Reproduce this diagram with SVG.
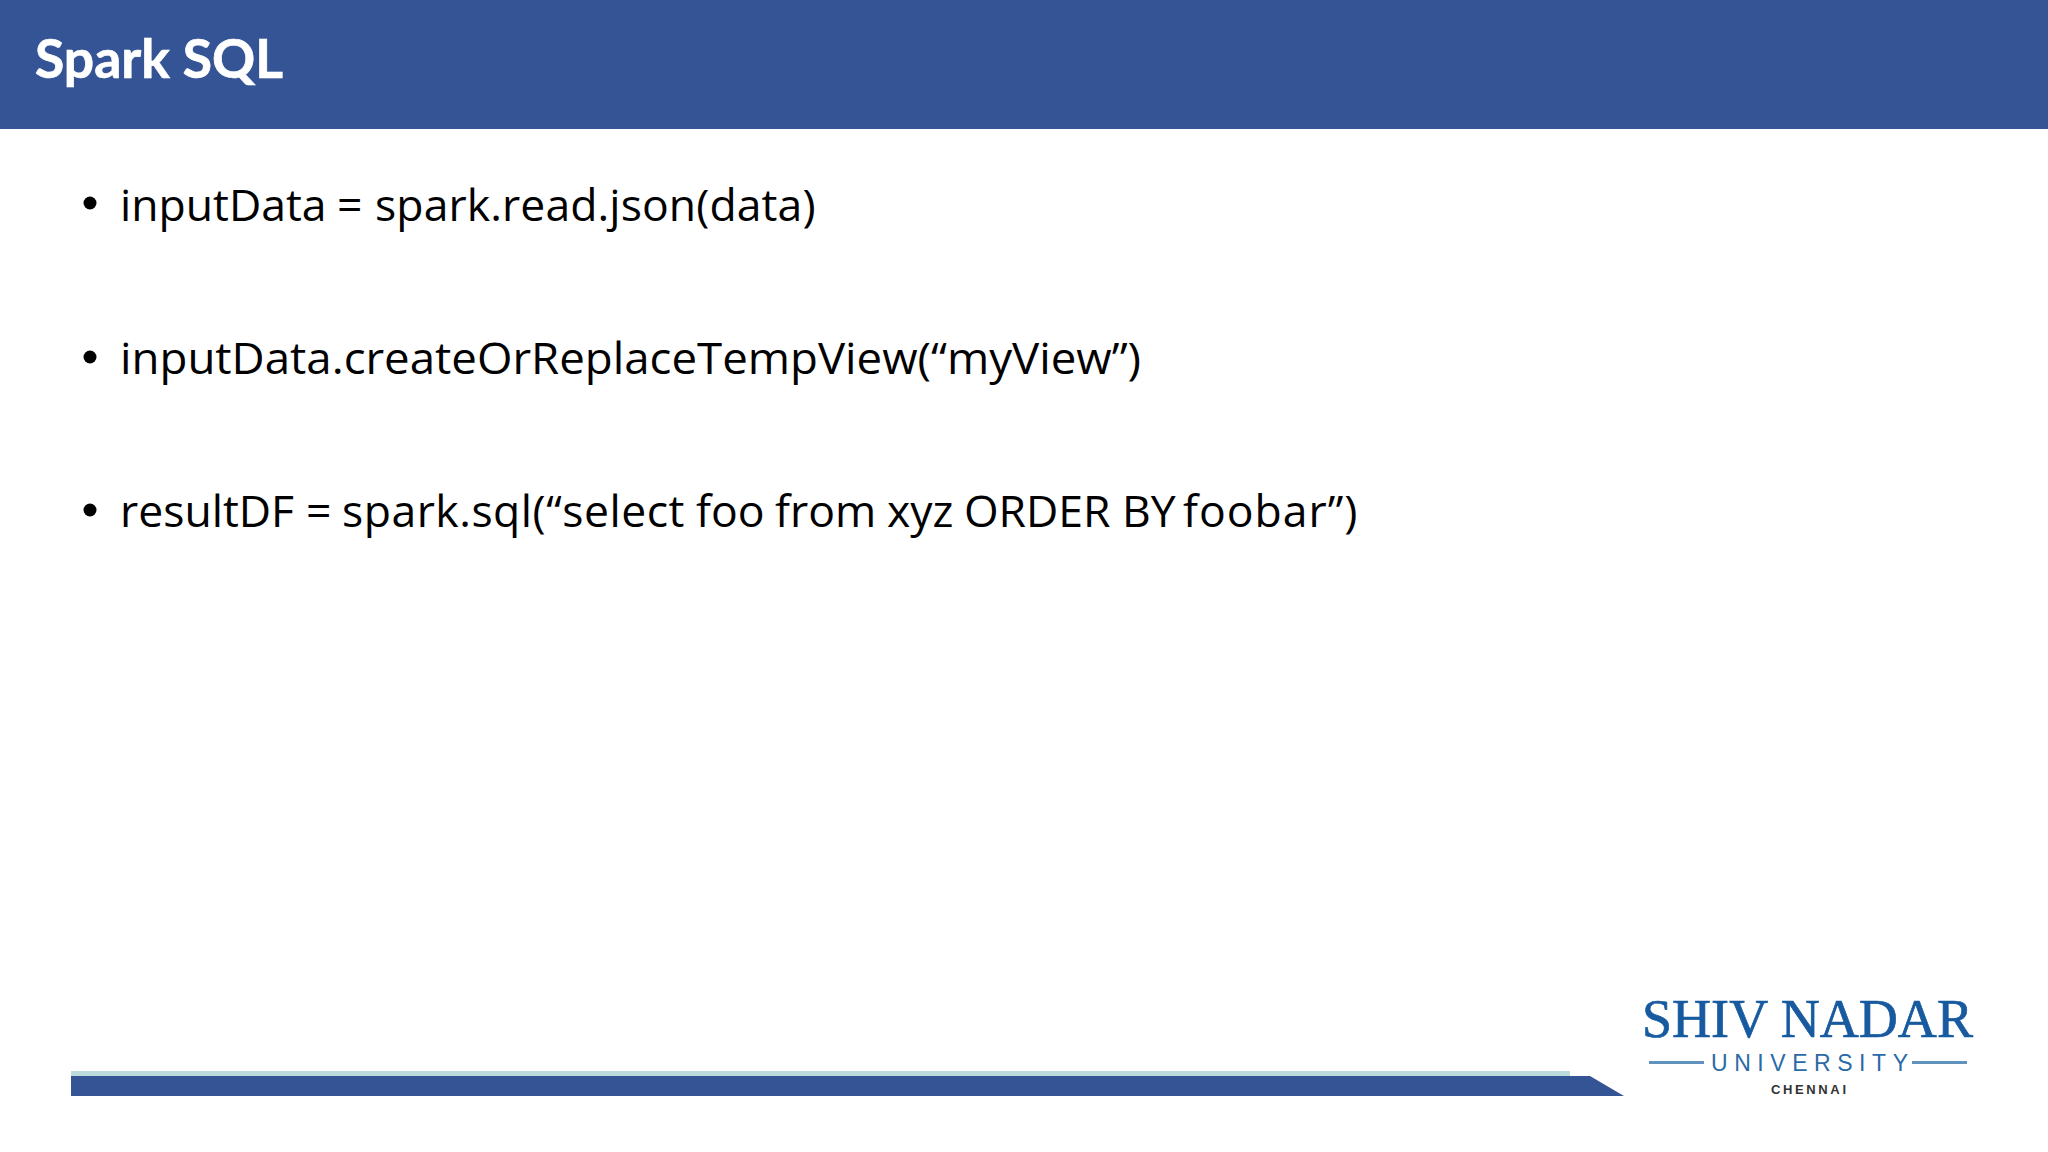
<svg xmlns="http://www.w3.org/2000/svg" width="2048" height="1152" viewBox="0 0 2048 1152">
<style>
.b{font-family:"Open Sans","Noto Sans","Liberation Sans",sans-serif;font-size:44.5px;fill:#000}
.t{font-family:Lato,"Open Sans","Liberation Sans",sans-serif;font-size:54px;font-weight:700;fill:#fff;stroke:#fff;stroke-width:.7}
.s{font-family:"Liberation Serif",serif;fill:#175a9f;stroke:#175a9f;stroke-width:.7}
.u{font-family:"Liberation Sans",sans-serif;fill:#2a6aa6}
</style>
<rect width="2048" height="1152" fill="#fff"/>
<g id="header"><rect width="2048" height="129" fill="#345496"/><text class="t" x="35" y="78" textLength="248" lengthAdjust="spacingAndGlyphs">Spark SQL</text></g>
<g id="bullets">
<circle cx="90" cy="203" r="6.5"/><text class="b" y="221"><tspan x="120">inputData </tspan><tspan x="337">= </tspan><tspan x="375" letter-spacing=".1">spark.read.json(data)</tspan></text>
<circle cx="90" cy="357" r="6.5"/><text class="b" x="120" y="374" textLength="1021" lengthAdjust="spacingAndGlyphs">inputData.createOrReplaceTempView(“myView”)</text>
<circle cx="90" cy="510" r="6.5"/><text class="b" y="527"><tspan x="120">resultDF </tspan><tspan x="306">= </tspan><tspan x="342" letter-spacing=".5">spark.sql(“select </tspan><tspan x="696">foo </tspan><tspan x="775">from </tspan><tspan x="887">xyz </tspan><tspan x="964">ORDER </tspan><tspan x="1122">BY </tspan><tspan x="1183" letter-spacing="1">foobar”)</tspan></text>
</g>
<g id="footer-bar"><rect x="71" y="1071" width="1499" height="6" fill="#bcdcdc"/><polygon points="71,1076 1590,1076 1624,1096 71,1096" fill="#345496"/></g>
<g id="logo">
<text class="s" x="1642" y="1037" font-size="55" textLength="331" lengthAdjust="spacingAndGlyphs">SHIV NADAR</text>
<rect x="1649" y="1061" width="55" height="3" fill="#5f93bd"/><rect x="1912" y="1061" width="55" height="3" fill="#5f93bd"/>
<text class="u" x="1711" y="1071" font-size="23" textLength="197">UNIVERSITY</text>
<text x="1771" y="1094" font-family="Liberation Sans,sans-serif" font-size="13" font-weight="700" fill="#333" textLength="75">CHENNAI</text>
</g>
</svg>
